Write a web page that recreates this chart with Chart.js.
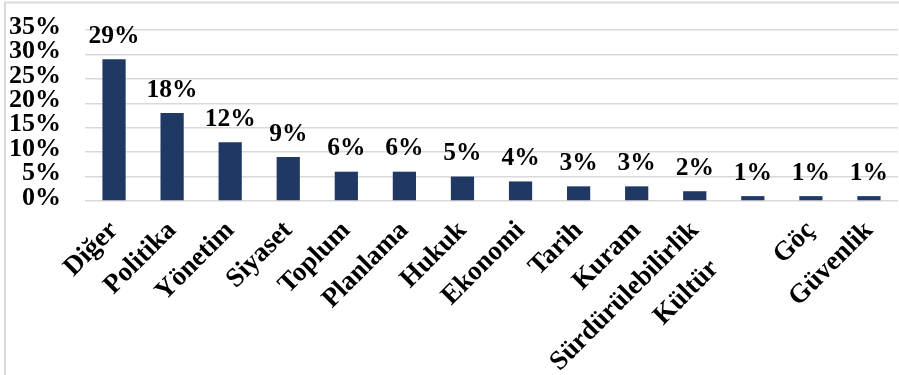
<!DOCTYPE html>
<html>
<head>
<meta charset="utf-8">
<script src="https://cdn.jsdelivr.net/npm/chart.js@4"></script>
<style>
  body { margin: 0; background: #fff; }
</style>
</head>
<body>
<canvas id="chart" width="899" height="375"></canvas>
<script>
//Categories (Kültür label is pushed down-left in the original, trailing spaces do that)
var categories = ['Diğer', 'Politika', 'Yönetim', 'Siyaset', 'Toplum', 'Planlama', 'Hukuk',
    'Ekonomi', 'Tarih', 'Kuram', 'Sürdürülebilirlik', 'Kültür        ', 'Göç', 'Güvenlik'];

//Share of each category, in percent
var shares = [29, 18, 12, 9, 6, 6, 5, 4, 3, 3, 2, 1, 1, 1];

//Y axis ticks
var yMin = 0;
var yMax = 35;
var yStep = 5;

var fontFamily = '"Liberation Serif", "Times New Roman", serif';
var barColor = '#203864';
var gridColor = '#d9d9d9';

//Light frame around the chart (left and top edges show in the picture)
var framePlugin = {
    id: 'frame',
    beforeDraw: function (chart) {
        var ctx = chart.ctx;
        ctx.save();
        ctx.strokeStyle = gridColor;
        ctx.lineWidth = 2;
        ctx.beginPath();
        ctx.moveTo(5, chart.height);
        ctx.lineTo(5, 2.5);
        ctx.lineTo(chart.width, 2.5);
        ctx.stroke();
        ctx.restore();
    }
};

//Value labels above each bar
var valueLabels = {
    id: 'valueLabels',
    afterDatasetsDraw: function (chart) {
        var ctx = chart.ctx;
        var meta = chart.getDatasetMeta(0);
        ctx.save();
        ctx.font = 'bold 25.5px ' + fontFamily;
        ctx.fillStyle = '#000';
        ctx.textAlign = 'center';
        ctx.textBaseline = 'alphabetic';
        meta.data.forEach(function (bar, i) {
            ctx.fillText(shares[i] + '%', bar.x, bar.y - 16.5);
        });
        ctx.restore();
    }
};

var ctx = document.getElementById('chart').getContext('2d');
var chart = new Chart(ctx, {
    type: 'bar',
    data: {
        labels: categories,
        datasets: [{
            data: shares,
            backgroundColor: barColor,
            barPercentage: 0.4,
            categoryPercentage: 1.0
        }]
    },
    options: {
        responsive: false,
        animation: false,
        layout: {
            padding: { top: 30, right: 1, left: 0, bottom: 0 }
        },
        plugins: {
            legend: { display: false },
            tooltip: { enabled: false }
        },
        scales: {
            x: {
                grid: { display: false },
                border: { display: false },
                ticks: {
                    minRotation: 45,
                    maxRotation: 45,
                    autoSkip: false,
                    padding: 6,
                    color: '#000',
                    font: { family: fontFamily, size: 27, weight: 'bold' }
                },
                afterFit: function (scale) {
                    scale.height = 174;
                }
            },
            y: {
                min: yMin,
                max: yMax,
                grid: { color: gridColor, lineWidth: 1.5, drawTicks: false },
                border: { display: false },
                ticks: {
                    stepSize: yStep,
                    autoSkip: false,
                    padding: 24,
                    labelOffset: -3,
                    color: '#000',
                    font: { family: fontFamily, size: 26, weight: 'bold', lineHeight: 1 },
                    callback: function (v) { return v + '%'; }
                },
                afterFit: function (scale) {
                    scale.width = 85;
                    scale.paddingTop = 0;
                    scale.paddingBottom = 0;
                }
            }
        }
    },
    plugins: [framePlugin, valueLabels]
});
</script>
</body>
</html>
